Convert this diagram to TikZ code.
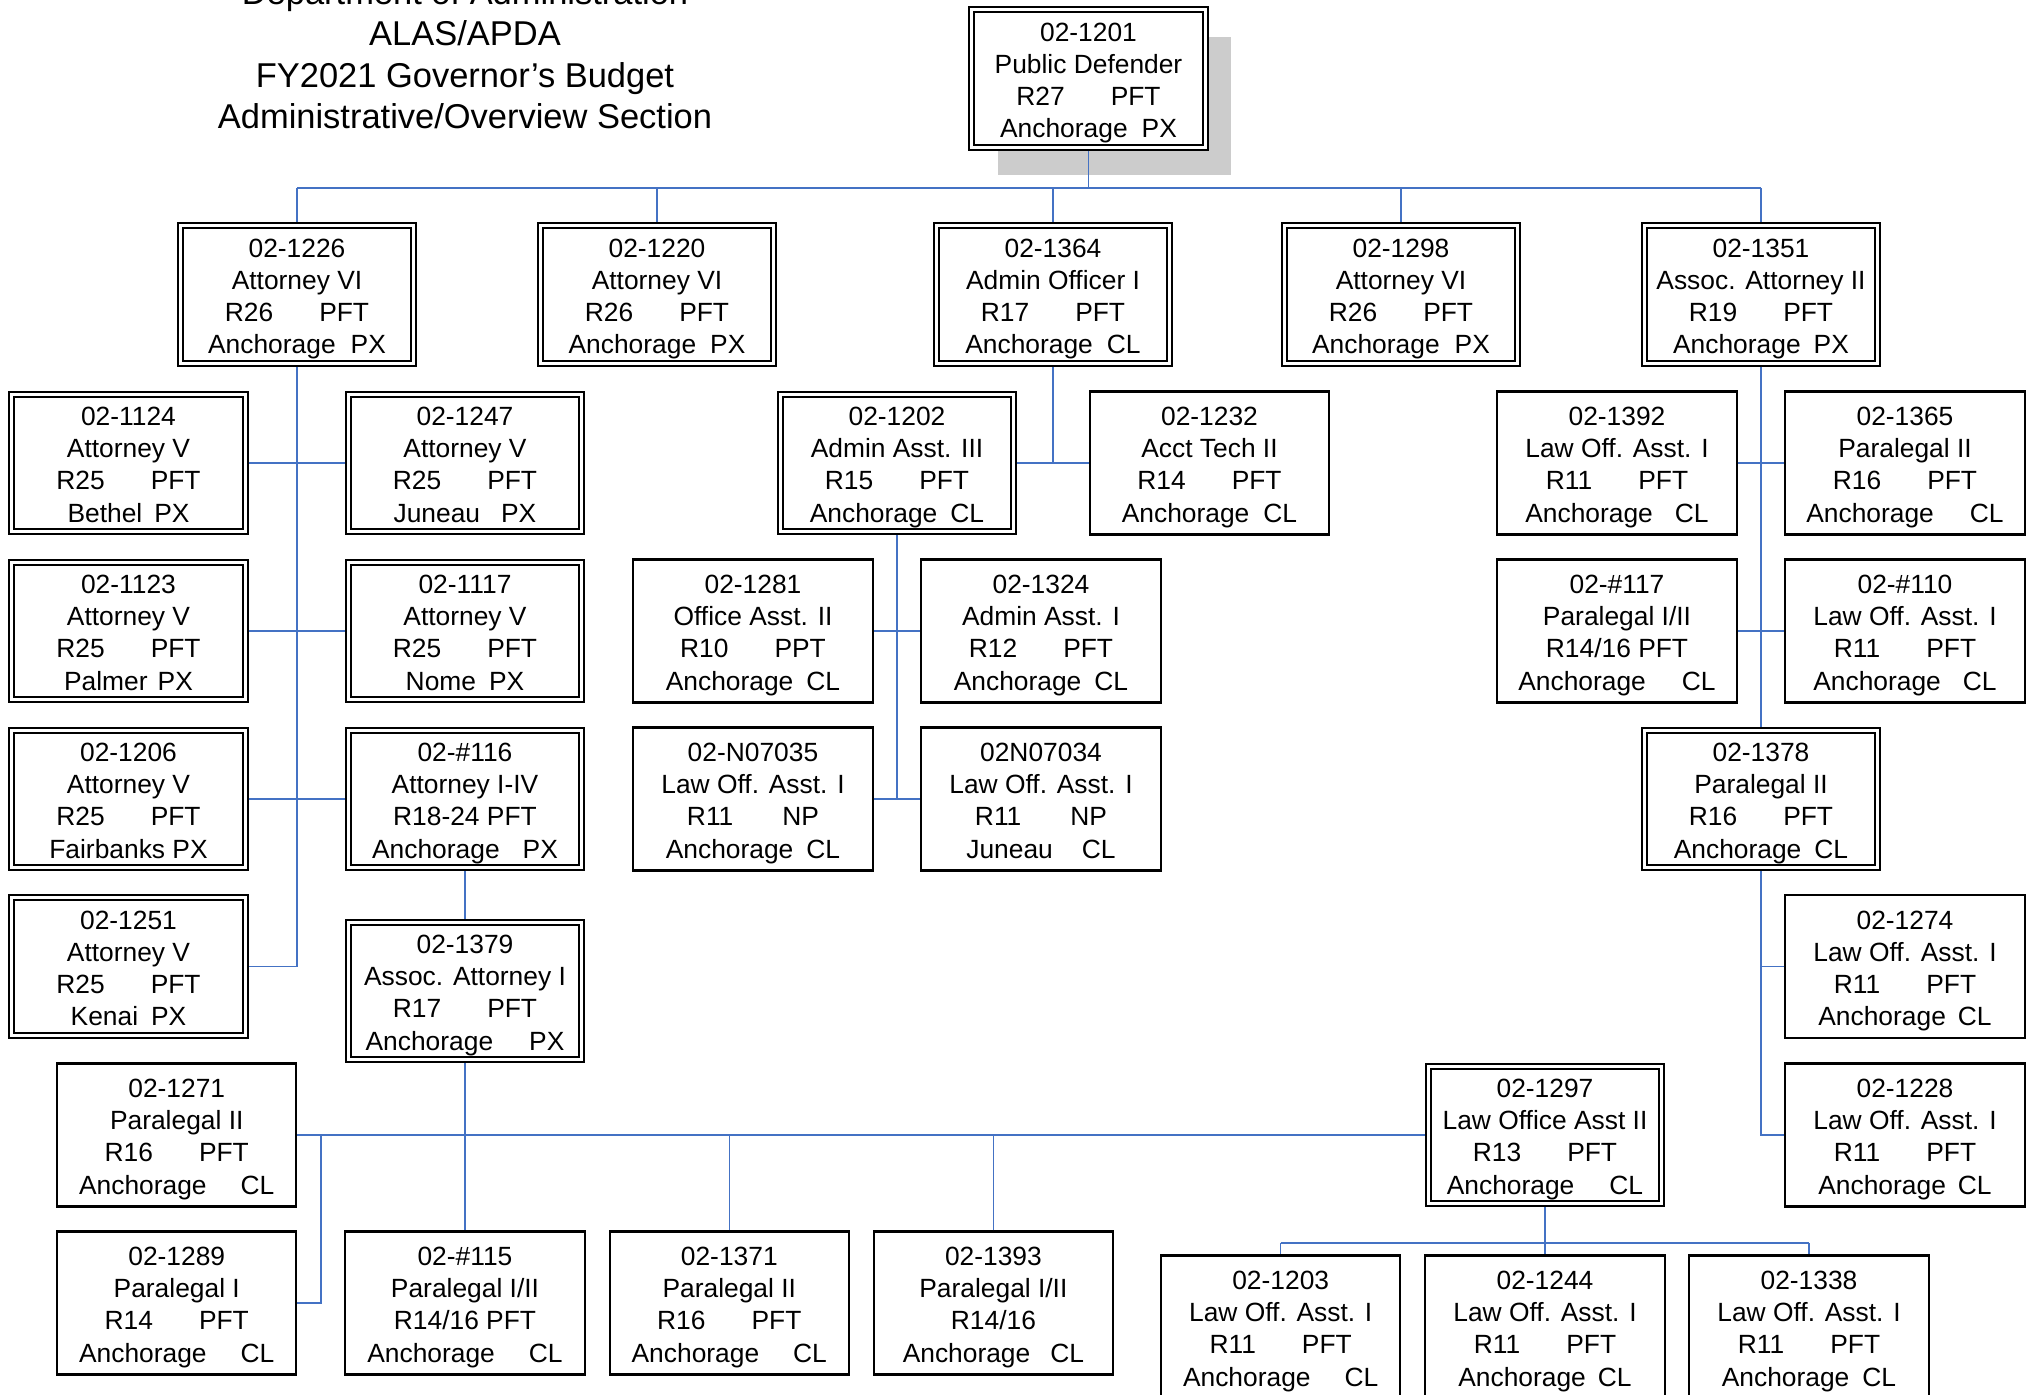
\documentclass[tikz,border=0pt]{standalone}
\usepackage{fontspec}
\setmainfont{Liberation Sans}
\usetikzlibrary{%
  shadows%
}
\definecolor{linkblue}{RGB}{68,114,196}
\newlength{\pxu}\setlength{\pxu}{0.2845pt}
\newcommand{\gp}[1]{\hspace{#1\pxu}}

\begin{document}
\begin{tikzpicture}[x=0.01cm,y=-0.01cm,
  post/.style={draw,fill=white,align=center,inner sep=0pt,font=\fontsize{7.5}{9.15}\selectfont,
    execute at begin node={\rule{0pt}{35.6pt}},execute at end node={\rule[-2pt]{0pt}{2pt}}},
  dbl/.style={post,double,double distance=0.9pt,line width=0.5pt,outer sep=0.95pt,minimum width=2.333cm,minimum height=1.373cm},
  sgl/.style={post,line width=0.6pt,minimum width=2.39cm,minimum height=1.43cm},
  lead/.style={dbl,drop shadow={shadow xshift=0.26cm,shadow yshift=-0.275cm,fill=black!20,opacity=1}},
  link/.style={linkblue,line width=0.35pt},
  bus/.style={linkblue,line width=0.6pt}]
\useasboundingbox (0,0) rectangle (2026,1395);
\clip (0,0) rectangle (2026,1395);
\fill[white] (0,0) rectangle (2026,1395);

\node[font=\fontsize{9.8}{11.8}\selectfont,align=center,inner sep=0pt] (title) at (465,54) {Department of Administration\\ALAS/APDA\\FY2021 Governor’s Budget\\Administrative/Overview Section};

\node[lead] (n1201) at (1088.5,78.5) {02-1201\\Public Defender\\R27\gp{46}PFT\\Anchorage\gp{14}PX};

\node[dbl] (n1226) at (297,294.5) {02-1226\\Attorney VI\\R26\gp{46}PFT\\Anchorage\gp{15}PX};
\node[dbl] (n1220) at (657,294.5) {02-1220\\Attorney VI\\R26\gp{46}PFT\\Anchorage\gp{14}PX};
\node[dbl] (n1364) at (1053,294.5) {02-1364\\Admin Officer I\\R17\gp{46}PFT\\Anchorage\gp{14}CL};
\node[dbl] (n1298) at (1401,294.5) {02-1298\\Attorney VI\\R26\gp{46}PFT\\Anchorage\gp{15}PX};
\node[dbl] (n1351) at (1761,294.5) {02-1351\\Assoc. Attorney II\\R19\gp{46}PFT\\Anchorage\gp{13}PX};

\node[dbl] (n1124) at (128.5,463) {02-1124\\Attorney V\\R25\gp{46}PFT\\Bethel\gp{12}PX};
\node[dbl] (n1247) at (465,463) {02-1247\\Attorney V\\R25\gp{46}PFT\\Juneau\gp{21}PX};
\node[dbl] (n1202) at (897,463) {02-1202\\Admin Asst. III\\R15\gp{46}PFT\\Anchorage\gp{13}CL};
\node[sgl] (n1232) at (1209.5,463) {02-1232\\Acct Tech II\\R14\gp{46}PFT\\Anchorage\gp{14}CL};
\node[sgl] (n1392) at (1617,463) {02-1392\\Law Off. Asst. I\\R11\gp{46}PFT\\Anchorage\gp{22}CL};
\node[sgl] (n1365) at (1905,463) {02-1365\\Paralegal II\\R16\gp{46}PFT\\Anchorage\gp{36}CL};

\node[dbl] (n1123) at (128.5,631) {02-1123\\Attorney V\\R25\gp{46}PFT\\Palmer\gp{10}PX};
\node[dbl] (n1117) at (465,631) {02-1117\\Attorney V\\R25\gp{46}PFT\\Nome\gp{13}PX};
\node[sgl] (n1281) at (753,631) {02-1281\\Office Asst. II\\R10\gp{46}PPT\\Anchorage\gp{13}CL};
\node[sgl] (n1324) at (1041,631) {02-1324\\Admin Asst. I\\R12\gp{46}PFT\\Anchorage\gp{13}CL};
\node[sgl] (n117) at (1617,631) {02-\#117\\Paralegal I/II\\R14/16 PFT\\Anchorage\gp{36}CL};
\node[sgl] (n110) at (1905,631) {02-\#110\\Law Off. Asst. I\\R11\gp{46}PFT\\Anchorage\gp{22}CL};

\node[dbl] (n1206) at (128.5,799) {02-1206\\Attorney V\\R25\gp{46}PFT\\Fairbanks PX};
\node[dbl] (n116) at (465,799) {02-\#116\\Attorney I-IV\\R18-24 PFT\\Anchorage\gp{23}PX};
\node[sgl] (nN07035) at (753,799) {02-N07035\\Law Off. Asst. I\\R11\gp{49}NP\\Anchorage\gp{13}CL};
\node[sgl] (nN07034) at (1041,799) {02N07034\\Law Off. Asst. I\\R11\gp{49}NP\\Juneau\gp{29}CL};
\node[dbl] (n1378) at (1761,799) {02-1378\\Paralegal II\\R16\gp{46}PFT\\Anchorage\gp{13}CL};

\node[dbl] (n1251) at (128.5,966.5) {02-1251\\Attorney V\\R25\gp{46}PFT\\Kenai\gp{13}PX};
\node[dbl] (n1379) at (465,991) {02-1379\\Assoc. Attorney I\\R17\gp{46}PFT\\Anchorage\gp{36}PX};
\node[sgl] (n1274) at (1905,966.5) {02-1274\\Law Off. Asst. I\\R11\gp{46}PFT\\Anchorage\gp{12}CL};

\node[sgl] (n1271) at (176.75,1135) {02-1271\\Paralegal II\\R16\gp{46}PFT\\Anchorage\gp{34}CL};
\node[dbl] (n1297) at (1545,1135) {02-1297\\Law Office Asst II\\R13\gp{46}PFT\\Anchorage\gp{35}CL};
\node[sgl] (n1228) at (1905,1135) {02-1228\\Law Off. Asst. I\\R11\gp{46}PFT\\Anchorage\gp{12}CL};

\node[sgl] (n1289) at (176.75,1303) {02-1289\\Paralegal I\\R14\gp{46}PFT\\Anchorage\gp{34}CL};
\node[sgl] (n115) at (465,1303) {02-\#115\\Paralegal I/II\\R14/16 PFT\\Anchorage\gp{34}CL};
\node[sgl] (n1371) at (729.3,1303) {02-1371\\Paralegal II\\R16\gp{46}PFT\\Anchorage\gp{34}CL};
\node[sgl] (n1393) at (993.4,1303) {02-1393\\Paralegal I/II\\R14/16\\Anchorage\gp{20}CL};

\node[sgl] (n1203) at (1280.7,1327) {02-1203\\Law Off. Asst. I\\R11\gp{46}PFT\\Anchorage\gp{34}CL};
\node[sgl] (n1244) at (1545,1327) {02-1244\\Law Off. Asst. I\\R11\gp{46}PFT\\Anchorage\gp{12}CL};
\node[sgl] (n1338) at (1809,1327) {02-1338\\Law Off. Asst. I\\R11\gp{46}PFT\\Anchorage\gp{13}CL};

\coordinate (topbus) at (0,188);
\coordinate (lowbus) at (0,1243);
\coordinate (elbow) at (320.6,1135);

\draw[link] (n1201.south) -- (n1201.south |- topbus);
\draw[bus] (n1226.north |- topbus) -- (n1351.north |- topbus);
\foreach \n in {n1226,n1220,n1364,n1298,n1351}
  \draw[link] (\n.north |- topbus) -- (\n.north);

\draw[link] (n1226.south) -- (n1226.south |- n1251.east) -- (n1251.east);
\foreach \a/\b in {n1124/n1247,n1123/n1117,n1206/n116}
  \draw[link] (\a.east) -- (\b.west);
\draw[link] (n116.south) -- (n1379.north);

\draw[link] (n1364.south) -- (n1364.south |- n1202.east);
\draw[link] (n1202.east) -- (n1232.west);
\draw[link] (n1202.south) -- (n1202.south |- nN07035.east);
\foreach \a/\b in {n1281/n1324,nN07035/nN07034}
  \draw[link] (\a.east) -- (\b.west);

\draw[link] (n1351.south) -- (n1378.north);
\foreach \a/\b in {n1392/n1365,n117/n110}
  \draw[link] (\a.east) -- (\b.west);
\draw[link] (n1378.south) -- (n1378.south |- n1228.west) -- (n1228.west);
\draw[link] (n1274.west) -- (n1274.west -| n1378.south);

\draw[bus] (n1271.east) -- (n1297.west);
\draw[bus] (n1289.east) -| (elbow);
\draw[link] (n1379.south) -- (n115.north);
\foreach \n in {n1371,n1393}
  \draw[link] (\n.north) -- (\n.north |- n1297.west);

\draw[link] (n1297.south) -- (n1297.south |- lowbus);
\draw[bus] (n1203.north |- lowbus) -- (n1338.north |- lowbus);
\foreach \n in {n1203,n1244,n1338}
  \draw[link] (\n.north |- lowbus) -- (\n.north);
\end{tikzpicture}
\end{document}
